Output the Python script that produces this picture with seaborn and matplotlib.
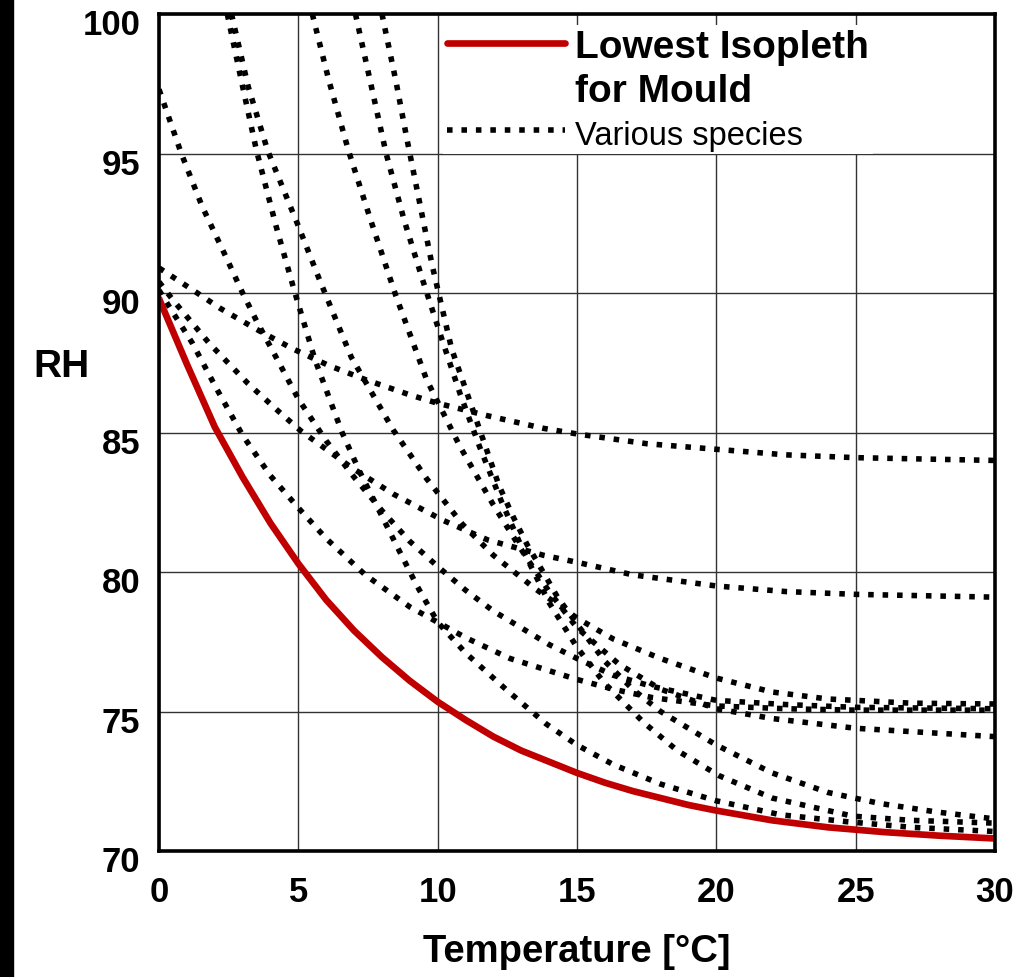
import matplotlib
matplotlib.use("Agg")
import matplotlib.pyplot as plt
from matplotlib.lines import Line2D
from matplotlib.patches import Rectangle
from matplotlib.transforms import ScaledTranslation
import seaborn as sns

# lowest isopleth for mould (red line)
lim_t = [0, 1, 2, 3, 4, 5, 6, 7, 8, 9, 10, 11, 12, 13, 14, 15, 16, 17, 18, 19, 20,
         22, 24, 26, 28, 30]
lim_rh = [89.8, 87.45, 85.2, 83.4, 81.75, 80.3, 79.0, 77.9, 76.95, 76.1, 75.35, 74.7,
          74.1, 73.6, 73.2, 72.8, 72.45, 72.15, 71.9, 71.65, 71.45, 71.1, 70.85,
          70.68, 70.55, 70.45]

# isopleths of the various species (dotted)
sp_a_t = [0, 1.3, 2.2, 3.5, 4.8, 6.1, 7.4, 9, 10, 11.8, 13.8, 15, 17.5, 20, 22.5, 25, 27.5, 30]
sp_a_rh = [90.9, 90.05, 89.45, 88.7, 88.0, 87.4, 86.9, 86.35, 86.05, 85.6, 85.15, 84.95,
           84.6, 84.4, 84.2, 84.1, 84.05, 84.0]

sp_b_t = [0, 0.5, 1.8, 3.2, 4.3, 5.1, 6.9, 8.4, 10.2, 11.8, 13.8, 15, 17, 20, 22.5, 25, 27.5, 30]
sp_b_rh = [90.4, 89.75, 88.2, 86.75, 85.75, 85.05, 83.75, 82.8, 81.85, 81.15, 80.6, 80.35,
           79.9, 79.5, 79.3, 79.2, 79.15, 79.1]

sp_c_t = [0, 0.5, 1.2, 2.05, 3, 4, 5, 6, 7.4, 9, 10, 11, 12.6, 15, 16.3, 17.7, 20, 22.5, 25, 30]
sp_c_rh = [90.1, 89.3, 88.2, 86.6, 84.9, 83.45, 82.3, 81.2, 79.9, 78.75, 78.2, 77.65,
           76.9, 76.15, 75.8, 75.5, 75.2, 75.1, 75.05, 75.05]

sp_d_t = [0, 0.8, 1.55, 2.4, 3, 3.5, 4.2, 5, 6, 7, 8, 9, 10, 11, 12, 13, 14, 15,
          16.3, 17.7, 20, 22.5, 25, 30]
sp_d_rh = [97.3, 95.0, 93.1, 91.3, 90.0, 89.0, 87.7, 86.2, 84.7, 83.4, 82.2, 81.1,
           80.2, 79.35, 78.6, 78.0, 77.4, 76.9, 76.3, 75.9, 75.4, 75.25, 75.15, 75.1]

sp_e_t = [2.45, 3.0, 3.5, 4.2, 4.85, 5.6, 6.57, 7.2, 8.5, 9.26, 10, 11, 12.5, 13.9,
          15, 16.3, 18, 20, 22.3, 24.7, 27, 30]
sp_e_rh = [100, 97.4, 95.1, 92.4, 90.1, 87.6, 85.0, 83.6, 81.0, 79.5, 78.2, 77.1,
           75.75, 74.55, 73.8, 73.1, 72.4, 71.8, 71.3, 71.05, 70.85, 70.7]

sp_f_t = [2.6, 3.2, 3.9, 5, 5.75, 6.9, 8.4, 9.6, 10.9, 12, 13.5, 15, 16.3, 18, 20,
          22, 24, 27, 30]
sp_f_rh = [100, 97.4, 95.1, 92.4, 90.5, 87.7, 85.1, 83.35, 81.7, 80.6, 79.4, 78.35,
           77.6, 76.9, 76.2, 75.7, 75.45, 75.3, 75.27]

sp_g_t = [5.5, 6.1, 6.8, 7.6, 8.5, 9.6, 10.8, 12, 13.1, 14, 15, 16.5, 18, 20, 22, 25, 30]
sp_g_rh = [100, 97.6, 95.1, 92.6, 89.9, 86.9, 84.5, 82.4, 80.65, 79.3, 78.0, 76.7,
           75.8, 75.1, 74.75, 74.4, 74.1]

sp_h_t = [7.05, 7.6, 8.15, 8.8, 9.45, 10.1, 10.8, 11.5, 12.3, 13.1, 14, 15, 16, 17.4,
          18.6, 20.1, 22, 24.9, 27, 30]
sp_h_rh = [100, 97.5, 95.0, 92.6, 90.5, 88.5, 86.4, 84.5, 82.5, 80.7, 78.9, 77.3,
           76.0, 74.6, 73.6, 72.7, 71.9, 71.25, 71.1, 71.0]

sp_i_t = [8.0, 8.5, 8.9, 9.4, 9.8, 10.5, 11.3, 11.75, 12.2, 12.7, 13.2, 13.9, 14.3,
          15.1, 16, 17, 18, 20, 22, 24, 25.9, 27.9, 30]
sp_i_rh = [100, 97.6, 95.5, 93.0, 91.0, 88.0, 85.7, 84.4, 83.1, 82.0, 81.0, 79.8,
           79.1, 78.0, 76.8, 75.8, 75.0, 73.8, 72.8, 72.1, 71.7, 71.4, 71.15]

species = [(sp_a_t, sp_a_rh), (sp_b_t, sp_b_rh), (sp_c_t, sp_c_rh),
           (sp_d_t, sp_d_rh), (sp_e_t, sp_e_rh), (sp_f_t, sp_f_rh),
           (sp_g_t, sp_g_rh), (sp_h_t, sp_h_rh), (sp_i_t, sp_i_rh)]

legend_labels = ["Lowest Isopleth", "for Mould", "Various species"]

red = "#c00000"
dot = (0, (1, 1.6))
dot_lw = 4.0

sns.set_theme(style="whitegrid")
plt.rcParams["font.family"] = ["Liberation Sans", "DejaVu Sans"]

fig = plt.figure(figsize=(10.26, 9.78), dpi=100)
fig.patches.append(Rectangle((0, 0), 13 / 1026, 1, transform=fig.transFigure,
                             color="black", zorder=-1))
ax = fig.add_axes([0.155, 0.1288, 0.8148, 0.8558])

for t, rh in species:
    sns.lineplot(x=t, y=rh, ax=ax, color="black", linewidth=dot_lw, linestyle=dot,
                 sort=False, zorder=3)

sns.lineplot(x=lim_t, y=lim_rh, ax=ax, color=red, linewidth=4.8, zorder=4)

ax.set_xlim(0, 30)
ax.set_ylim(70, 100)
ax.set_xticks(range(0, 31, 5))
ax.set_yticks(range(70, 101, 5))
ax.grid(True, color="#333333", linewidth=1.0)
ax.set_axisbelow(True)

for s in ax.spines.values():
    s.set_color("black")
    s.set_linewidth(2.6)
    s.set_zorder(6)

ax.tick_params(axis="both", length=0, labelsize=25, labelcolor="black")
ax.tick_params(axis="x", pad=17)
ax.tick_params(axis="y", pad=13.5)
for lab in ax.get_xticklabels() + ax.get_yticklabels():
    lab.set_fontweight("bold")
for lab in ax.get_yticklabels():
    lab.set_transform(lab.get_transform() + ScaledTranslation(0, -7 / 100, fig.dpi_scale_trans))

ax.set_xlabel("Temperature [°C]", fontsize=27.5, fontweight="bold", color="black")
ax.xaxis.set_label_coords(0.5, -0.098)
ax.set_ylabel("RH", fontsize=28, fontweight="bold", color="black", rotation=0,
              ha="center", va="center")
ax.yaxis.set_label_coords(-0.117, 0.58)

handles = [Line2D([], [], color=red, linewidth=4.8),
           Line2D([], [], color="none"),
           Line2D([], [], color="black", linewidth=dot_lw, linestyle=dot)]
leg = ax.legend(handles, legend_labels, loc="upper left", bbox_to_anchor=(0.3395, 0.987),
                borderaxespad=0, borderpad=0.1, handlelength=3.05, handletextpad=0.26,
                labelspacing=0.2, frameon=True, fancybox=False, framealpha=1,
                facecolor="white", edgecolor="none",
                prop={"size": 28, "weight": "bold"})
for txt in leg.get_texts():
    txt.set_color("black")
leg.get_texts()[2].set_fontsize(23.5)
leg.get_texts()[2].set_fontweight("normal")

fig.savefig("out.png", dpi=100)
